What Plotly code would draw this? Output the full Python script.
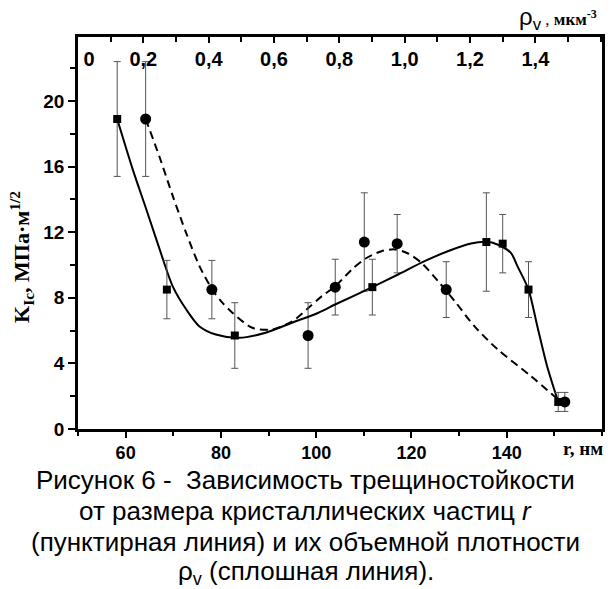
import plotly.graph_objects as go

# ---- data ----
# K_Ic values (shared by both series), symmetric error bars
k_values = [18.9, 8.5, 5.7, 8.65, 11.4, 11.3, 8.5, 1.65]
k_errors = [3.5, 1.78, 2.0, 1.7, 3.0, 1.78, 1.7, 0.58]

# particle size r, nm (circles, bottom axis)
r_values = [64.2, 78.1, 98.3, 104.0, 110.1, 117.0, 127.3, 152.2]
# volume density rho_v, um^-3 (squares, top axis)
rho_values = [0.120, 0.272, 0.480, 0.901, 1.250, 1.300, 1.379, 1.470]

# solid fitted curve (vs rho_v)
rho_curve = [0.120, 0.168, 0.209, 0.250, 0.290, 0.331, 0.371, 0.422, 0.493, 0.574,
             0.655, 0.736, 0.787, 0.901, 0.980, 1.061, 1.132, 1.203, 1.250, 1.284,
             1.325, 1.345, 1.379, 1.406, 1.436, 1.470]
k_curve_solid = [18.9, 15.8, 13.4, 10.95, 8.7, 7.3, 6.27, 5.76, 5.56, 5.87,
                 6.48, 7.09, 7.59, 8.65, 9.42, 10.23, 10.84, 11.31, 11.41, 11.25,
                 10.74, 9.93, 8.5, 6.27, 3.83, 1.66]

# dashed fitted curve (vs r)
r_curve = [64.2, 67.1, 69.9, 72.7, 75.5, 78.2, 80.3, 82.4, 86.6, 90.8, 95.0,
           98.4, 101.2, 104.0, 107.5, 110.3, 113.7, 116.5, 119.3, 122.1, 125.6,
           129.1, 133.2, 138.1, 145.1, 150.8]
k_curve_dashed = [18.9, 16.6, 14.2, 11.96, 9.93, 8.5, 7.7, 7.09, 6.17, 6.07, 6.57,
                  7.39, 8.1, 8.7, 9.73, 10.38, 10.84, 10.95, 10.7, 10.13, 9.01,
                  7.79, 6.27, 4.85, 3.22, 1.8]

bottom_ticks = [60, 80, 100, 120, 140]
top_tickvals = [0, 0.2, 0.4, 0.6, 0.8, 1.0, 1.2, 1.4]
top_ticktext = ["\u00a0\u00a0\u00a0\u00a00", "0,2", "0,4", "0,6", "0,8", "1,0", "1,2", "1,4"]

caption_lines = [
    "Рисунок 6 -  Зависимость трещиностойкости",
    "от размера кристаллических частиц <i>r</i>",
    "(пунктирная линия) и их объемной плотности",
    "ρ<sub>v</sub> (сплошная линия).",
]

err_style = dict(type="data", color="#555555", thickness=1, width=3.5)

fig = go.Figure()
fig.add_trace(go.Scatter(x=rho_curve, y=k_curve_solid, xaxis="x2", yaxis="y",
                         mode="lines", line=dict(color="black", width=2, shape="spline", smoothing=0.8),
                         hoverinfo="skip", showlegend=False))
fig.add_trace(go.Scatter(x=r_curve, y=k_curve_dashed, xaxis="x", yaxis="y",
                         mode="lines", line=dict(color="black", width=2, dash="8px,5px", shape="spline", smoothing=0.8),
                         hoverinfo="skip", showlegend=False))
fig.add_trace(go.Scatter(x=rho_values, y=k_values, xaxis="x2", yaxis="y", mode="markers",
                         marker=dict(symbol="square", size=8, color="black"),
                         error_y=dict(array=k_errors, **err_style), showlegend=False))
fig.add_trace(go.Scatter(x=r_values, y=k_values, xaxis="x", yaxis="y", mode="markers",
                         marker=dict(symbol="circle", size=11, color="black"),
                         error_y=dict(array=k_errors, **err_style), showlegend=False))

tickfont = dict(family="Liberation Sans", size=19, color="black", weight="bold")

fig.update_layout(
    width=613, height=589,
    margin=dict(l=78, r=8, t=37, b=160),
    paper_bgcolor="white", plot_bgcolor="white",
    showlegend=False,
    xaxis=dict(range=[50, 160], tickmode="array", tickvals=bottom_ticks,
               ticks="outside", ticklen=6, tickwidth=2, tickcolor="black",
               minor=dict(tick0=50, dtick=10, ticks="outside", ticklen=4, tickwidth=2, tickcolor="black"),
               showline=True, linecolor="black", linewidth=2.5, mirror=True,
               showgrid=False, zeroline=False, tickfont=dict(tickfont, size=18)),
    xaxis2=dict(range=[0, 1.604], overlaying="x", side="top", anchor="y",
                tickmode="array", tickvals=top_tickvals, ticktext=top_ticktext,
                ticks="inside", ticklen=6, tickwidth=2, tickcolor="black",
                ticklabelposition="inside", ticklabeloverflow="allow", ticklabelstandoff=10,
                minor=dict(tick0=0, dtick=0.1, ticks="inside", ticklen=5, tickwidth=2, tickcolor="black"),
                showline=True, linecolor="black", linewidth=2.5,
                showgrid=False, zeroline=False, tickfont=dict(tickfont, size=20)),
    yaxis=dict(range=[0, 23.9], tickmode="linear", tick0=0, dtick=4,
               ticks="outside", ticklen=7, tickwidth=2, tickcolor="black",
               minor=dict(tick0=0, dtick=2, ticks="outside", ticklen=5, tickwidth=2, tickcolor="black"),
               showline=True, linecolor="black", linewidth=2.5, mirror=True,
               showgrid=False, zeroline=False, tickfont=tickfont),
)

# axis titles
fig.add_annotation(text="K<sub>Ic</sub>, МПа·м<sup>1/2</sup>", xref="paper", yref="paper",
                   x=-0.108, y=0.44, textangle=-90, showarrow=False, xanchor="center", yanchor="middle",
                   font=dict(family="Liberation Serif", size=22, color="black", weight="bold"))
fig.add_annotation(text="<b>r, нм</b>", xref="paper", yref="paper",
                   x=0.963, y=-0.05, showarrow=False, xanchor="center", yanchor="middle",
                   font=dict(family="Liberation Serif", size=19, color="black"))
fig.add_annotation(text="<span style='font-family:Liberation Sans;font-size:24px'>ρ<sub>v</sub></span> , <b>мкм<sup>-3</sup></b>",
                   xref="paper", yref="paper",
                   x=0.994, y=1.047, showarrow=False, xanchor="right", yanchor="middle",
                   font=dict(family="Liberation Serif", size=17, color="black"))

# caption
cap_y_px = [480, 511, 542, 572]
for line, ypx in zip(caption_lines, cap_y_px):
    fig.add_annotation(text=line, xref="paper", yref="paper",
                       x=(307 - 78) / 527, y=-(ypx - 429) / 392, showarrow=False,
                       xanchor="center", yanchor="middle",
                       font=dict(family="Liberation Sans", size=26, color="black"))

fig.write_html("out.html")
